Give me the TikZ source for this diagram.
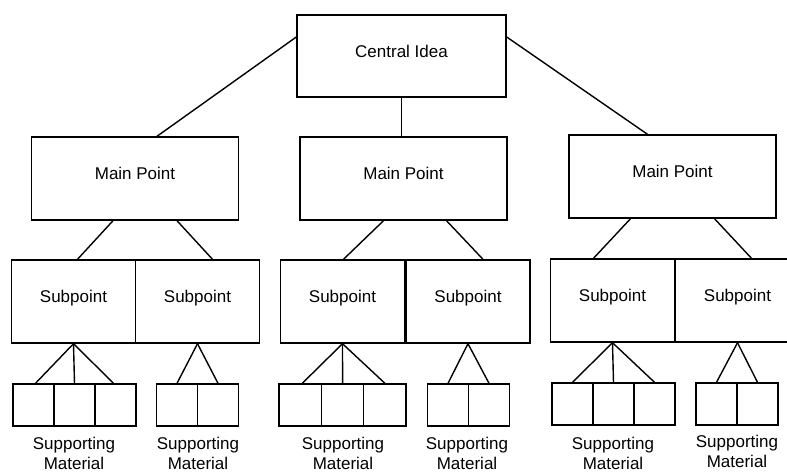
\documentclass[tikz,border=0pt]{standalone}
\usepackage{fontspec}
\setmainfont{Liberation Sans}
\usepackage{tikz}

\tikzset{
    every node/.style={font=\fontsize{17}{19.5}\selectfont},
    box/.style={draw, line width=1.4pt, inner sep=0pt, text height=12.5pt, text depth=10pt},
    ideabox/.style={box, minimum width=209pt, minimum height=82pt},
    pointbox/.style={box, minimum width=207pt, minimum height=83pt},
    subbox/.style={box, minimum width=124pt, minimum height=83pt},
    cellbox/.style={draw, line width=1.4pt, minimum width=41pt, minimum height=42pt, inner sep=0pt},
    matlabel/.style={anchor=north, align=center, inner sep=0pt},
    link/.style={line width=1.4pt}
}

\begin{document}
\begin{tikzpicture}[x=1pt, y=-1pt]
            \clip (0,0) rectangle (787,474);
            \fill[white] (0,0) rectangle (787,474);
            \node[ideabox] (idea) at (401.5,56) {Central Idea};
            \node[pointbox] (main1) at (135,178.5) {Main Point};
            \node[pointbox] (main2) at (403.5,178.5) {Main Point};
            \node[pointbox] (main3) at (672.5,176.5) {Main Point};
            \node[subbox] (sub1) at (73.5,301.5) {Subpoint};
            \node[subbox] (sub2) at (197.5,301.5) {Subpoint};
            \node[subbox] (sub3) at (342.5,301.5) {Subpoint};
            \node[subbox] (sub4) at (468,301.5) {Subpoint};
            \node[subbox] (sub5) at (612.5,300.5) {Subpoint};
            \node[subbox] (sub6) at (737.5,300.5) {Subpoint};
            \node[cellbox] (m11) at (33.5,405) {};
            \node[cellbox] (m12) at (74.5,405) {};
            \node[cellbox] (m13) at (115.5,405) {};
            \node[cellbox] (m21) at (177,405) {};
            \node[cellbox] (m22) at (218,405) {};
            \node[cellbox, minimum width=42.3pt] (m31) at (300.3,405) {};
            \node[cellbox, minimum width=42.3pt] (m32) at (342.6,405) {};
            \node[cellbox, minimum width=42.3pt] (m33) at (384.9,405) {};
            \node[cellbox] (m41) at (448,405) {};
            \node[cellbox] (m42) at (489,405) {};
            \node[cellbox] (m51) at (572.5,404) {};
            \node[cellbox] (m52) at (613.5,404) {};
            \node[cellbox] (m53) at (654.5,404) {};
            \node[cellbox] (m61) at (716.5,404) {};
            \node[cellbox] (m62) at (757.5,404) {};
            \draw[link] ([yshift=19pt]idea.west) -- ([xshift=22pt]main1.north);
            \draw[link] (idea.south) -- (idea.south |- main2.north);
            \draw[link] ([yshift=19pt]idea.east) -- ([xshift=-25pt]main3.north);
            \draw[link] ([xshift=-22pt]main1.south) -- ([xshift=4pt]sub1.north);
            \draw[link] ([xshift=42pt]main1.south) -- ([xshift=15pt]sub2.north);
            \draw[link] ([xshift=-20pt]main2.south) -- ([xshift=1pt]sub3.north);
            \draw[link] ([xshift=43pt]main2.south) -- ([xshift=15pt]sub4.north);
            \draw[link] ([xshift=-42pt]main3.south) -- ([xshift=-19pt]sub5.north);
            \draw[link] ([xshift=42pt]main3.south) -- ([xshift=14pt]sub6.north);
            \draw[link] (sub1.south) -- ([xshift=2pt]m11.north);
            \draw[link] (sub1.south) -- (m12.north);
            \draw[link] (sub1.south) -- ([xshift=-2pt]m13.north);
            \draw[link] (sub2.south) -- (m21.north);
            \draw[link] (sub2.south) -- (m22.north);
            \draw[link] (sub3.south) -- ([xshift=2pt]m31.north);
            \draw[link] (sub3.south) -- (m32.north);
            \draw[link] (sub3.south) -- (m33.north);
            \draw[link] (sub4.south) -- (m41.north);
            \draw[link] (sub4.south) -- (m42.north);
            \draw[link] (sub5.south) -- (m51.north);
            \draw[link] (sub5.south) -- (m52.north);
            \draw[link] (sub5.south) -- (m53.north);
            \draw[link] (sub6.south) -- (m61.north);
            \draw[link] (sub6.south) -- (m62.north);
            \node[matlabel] (lab1) at (74,437) {Supporting\\Material};
            \node[matlabel] (lab2) at (198,437) {Supporting\\Material};
            \node[matlabel] (lab3) at (343,437) {Supporting\\Material};
            \node[matlabel] (lab4) at (467,437) {Supporting\\Material};
            \node[matlabel] (lab5) at (613,437) {Supporting\\Material};
            \node[matlabel] (lab6) at (737,435) {Supporting\\Material};
        \end{tikzpicture}
\end{document}
